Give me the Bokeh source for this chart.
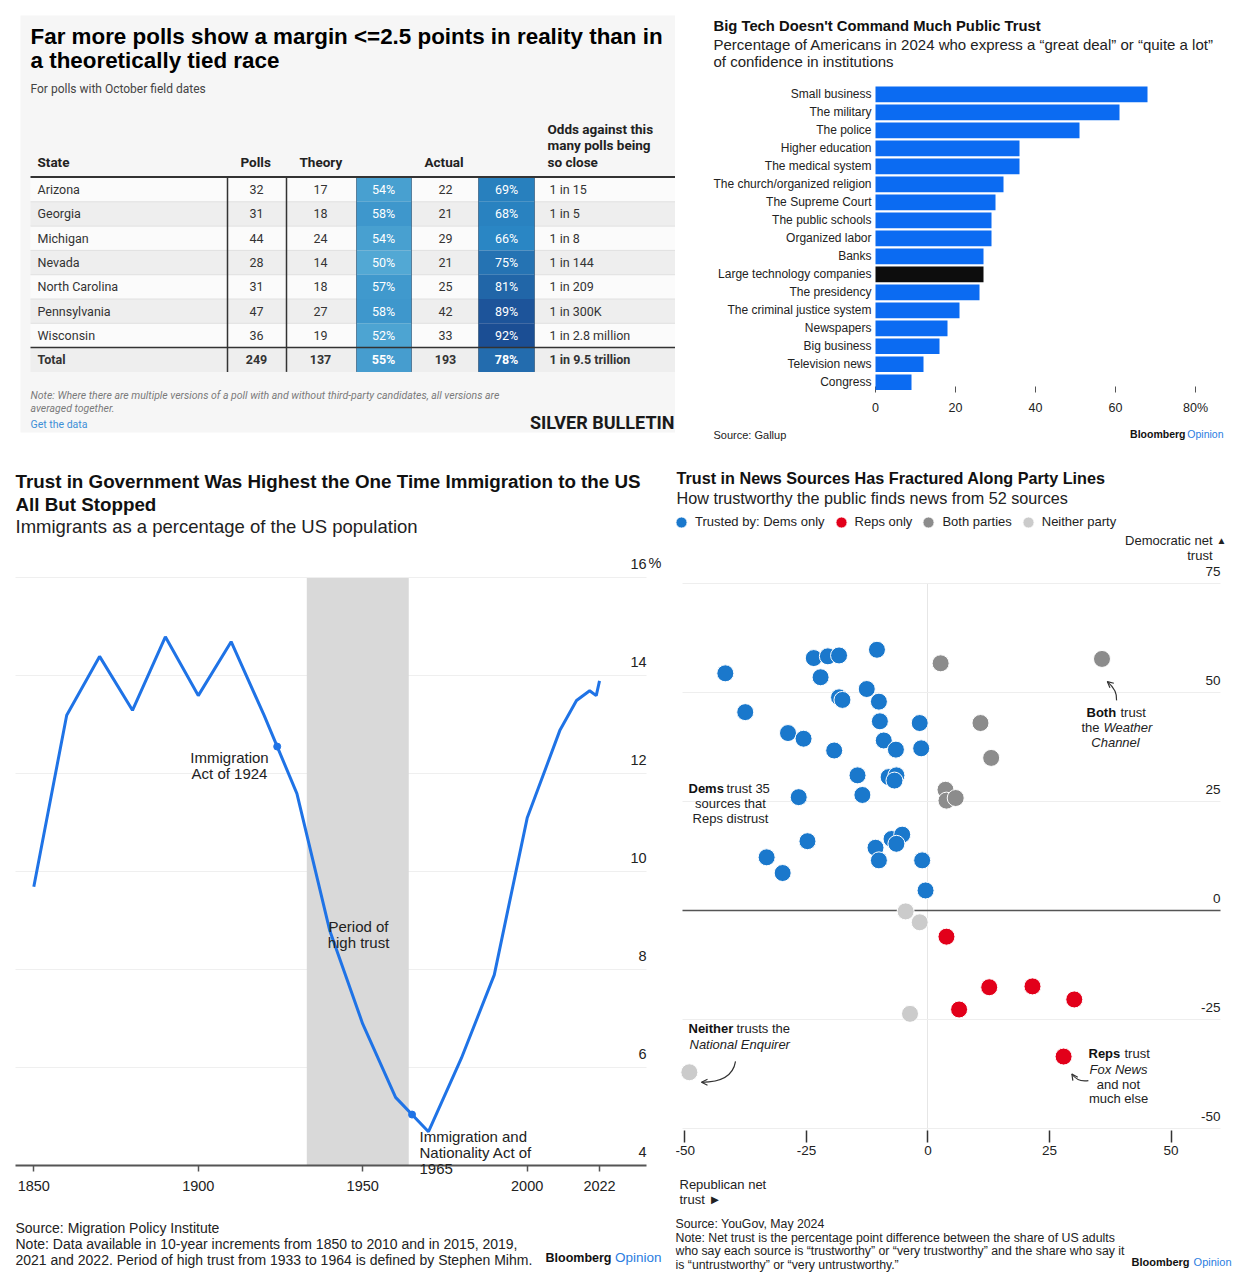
import numpy as np
from bokeh.plotting import figure
from bokeh.models import (Range1d, FixedTicker, Label, LabelSet, ColumnDataSource, Grid,
                          Legend, LegendItem, Arrow, OpenHead, BoxAnnotation)
from bokeh.layouts import row, column
from bokeh.embed import file_html
from bokeh.resources import INLINE
from bokeh.core.properties import value

# ---------------- data: polls table ----------------
states = ["Arizona", "Georgia", "Michigan", "Nevada", "North Carolina", "Pennsylvania", "Wisconsin", "Total"]
polls = [32, 31, 44, 28, 31, 47, 36, 249]
theory_n = [17, 18, 24, 14, 18, 27, 19, 137]
theory_pct = [54, 58, 54, 50, 57, 58, 52, 55]
actual_n = [22, 21, 29, 21, 25, 42, 33, 193]
actual_pct = [69, 68, 66, 75, 81, 89, 92, 78]
odds = ["1 in 15", "1 in 5", "1 in 8", "1 in 144", "1 in 209", "1 in 300K", "1 in 2.8 million", "1 in 9.5 trillion"]

# ---------------- data: confidence bars ----------------
institutions = ["Small business", "The military", "The police", "Higher education", "The medical system",
                "The church/organized religion", "The Supreme Court", "The public schools", "Organized labor",
                "Banks", "Large technology companies", "The presidency", "The criminal justice system",
                "Newspapers", "Big business", "Television news", "Congress"]
confidence = [68, 61, 51, 36, 36, 32, 30, 29, 29, 27, 27, 26, 21, 18, 16, 12, 9]
highlight = "Large technology companies"
bar_ticks = [0, 20, 40, 60, 80]

# ---------------- data: immigrants line ----------------
years = [1850, 1860, 1870, 1880, 1890, 1900, 1910, 1920, 1930, 1940, 1950, 1960, 1970, 1980, 1990,
         2000, 2010, 2015, 2019, 2021, 2022]
immig_pct = [9.7, 13.2, 14.4, 13.3, 14.8, 13.6, 14.7, 13.2, 11.6, 8.8, 6.9, 5.4, 4.7, 6.2, 7.9,
             11.1, 12.9, 13.5, 13.7, 13.6, 13.9]
high_trust = [1933, 1964]
act_years = [1924, 1965]
line_xticks = [1850, 1900, 1950, 2000, 2022]
line_yticks = [4, 6, 8, 10, 12, 14, 16]

# ---------------- data: news trust scatter ----------------
dems_x = [-41.7, -23.5, -20.6, -18.3, -10.5, -22.1, -12.6, -18.3, -17.6, -10.1, -37.6, -9.9, -1.7, -28.8,
          -25.6, -9.1, -6.6, -1.4, -19.3, -14.5, -8.1, -6.5, -6.9, -13.5, -26.6, -24.8, -10.8, -10.1,
          -7.5, -5.3, -6.5, -1.2, -33.2, -29.9, -0.5]
dems_y = [54.4, 57.9, 58.3, 58.5, 59.8, 53.5, 50.8, 48.9, 48.3, 47.9, 45.5, 43.4, 43.0, 40.7,
          39.4, 39.0, 36.9, 37.2, 36.7, 31.0, 30.6, 31.0, 29.8, 26.5, 26.0, 15.9, 14.4, 11.5,
          16.4, 17.4, 15.3, 11.5, 12.2, 8.6, 4.6]
reps_x = [3.8, 12.6, 21.5, 30.1, 6.4, 27.9]
reps_y = [-6.0, -17.6, -17.4, -20.4, -22.7, -33.5]
both_x = [2.6, 35.8, 10.8, 13.0, 3.6, 3.8, 5.7]
both_y = [56.7, 57.7, 43.0, 35.0, 27.7, 25.2, 25.8]
neither_x = [-4.6, -1.7, -3.7, -49.1]
neither_y = [-0.2, -2.7, -23.7, -37.1]
sc_xticks = [-50, -25, 0, 25, 50]
sc_yticks = [-50, -25, 0, 25, 50, 75]

SANS = "Liberation Sans"
ROB = "Roboto"
BLUE_OP = "#2a7de1"
HAS_CB = "cross_bounds" in Grid.properties()


def mkfig(w, h, xr, yr, **kw):
    p = figure(width=w, height=h, x_range=Range1d(*xr), y_range=Range1d(*yr), min_border=0,
               toolbar_location=None, output_backend="svg", outline_line_color=None,
               background_fill_color="white", border_fill_color="white", **kw)
    p.grid.visible = False
    return p


def lab(p, origin, X, Y, text, size=12, color="#222222", style="normal", align="left", font=SANS,
        baseline="middle"):
    fx0, fy0 = origin
    p.add_layout(Label(x=X - fx0, y=fy0 - Y, x_units="screen", y_units="screen", text=text,
                       text_font=font, text_font_size=f"{size}px", text_color=color,
                       text_font_style=style, text_align=align, text_baseline=baseline))


def hgrid(p, ticks, x0, x1, color, width=1.0):
    if HAS_CB:
        p.add_layout(Grid(dimension=1, ticker=FixedTicker(ticks=ticks), cross_bounds=(x0, x1),
                          grid_line_color=color, grid_line_width=width))
    else:
        p.segment(x0=x0, x1=x1, y0=ticks, y1=ticks, line_color=color, line_width=width, level="underlay")


def vgrid(p, ticks, y0, y1, color, width=1.0):
    if HAS_CB:
        p.add_layout(Grid(dimension=0, ticker=FixedTicker(ticks=ticks), cross_bounds=(y0, y1),
                          grid_line_color=color, grid_line_width=width))
    else:
        p.segment(x0=ticks, x1=ticks, y0=y0, y1=y1, line_color=color, line_width=width, level="underlay")


def style_axis(ax, size, tin, tout, standoff, tick_color, tick_w=1.0):
    ax.axis_line_color = None
    ax.major_tick_in = tin
    ax.major_tick_out = tout
    ax.minor_tick_line_color = None
    ax.major_tick_line_color = tick_color
    ax.major_tick_line_width = tick_w
    ax.major_label_standoff = standoff
    ax.major_label_text_font = SANS
    ax.major_label_text_font_size = f"{size}px"
    ax.major_label_text_color = "#222222"


def blend(v):
    xs = [50, 66, 92]
    cols = [(82, 168, 212), (42, 134, 196), (27, 78, 148)]
    rgb = [np.interp(v, xs, [c[k] for c in cols]) for k in range(3)]
    return "#%02x%02x%02x" % tuple(int(round(c)) for c in rgb)


# =============== 1. table (top left): canvas page x 0..675, y 0..450 ===============
TO = (0, 450)
t = mkfig(675, 450, (0, 675), (450, 0), x_axis_location=None, y_axis_location=None)
t.quad(left=20, right=675, top=15, bottom=432, fill_color="#f6f6f6", line_color=None)

n = len(states)
idx = np.arange(n)
row_h = 24.3
row_top = 177 + idx * row_h
row_mid = row_top + row_h / 2
row_fill = ["#fbfbfb" if i % 2 == 0 else "#eeeeee" for i in idx]
t.quad(left=30, right=675, top=row_top, bottom=row_top + row_h, fill_color=row_fill, line_color=None)
t.segment(x0=30, x1=675, y0=row_top[1:-1], y1=row_top[1:-1], line_color="#e0e0e0", line_width=1)
t.quad(left=356, right=411, top=row_top, bottom=row_top + row_h,
       fill_color=[blend(v) for v in theory_pct], line_color=None)
t.quad(left=478, right=534, top=row_top, bottom=row_top + row_h,
       fill_color=[blend(v) for v in actual_pct], line_color=None)
t_bottom = row_top[-1] + row_h
t.segment(x0=[356, 411, 478, 534], x1=[356, 411, 478, 534], y0=row_top[0], y1=t_bottom,
          line_color="#1d3f60", line_alpha=0.55, line_width=1)
t.segment(x0=[227, 286], x1=[227, 286], y0=row_top[0], y1=t_bottom, line_color="#333333", line_width=1.5)
t.segment(x0=30, x1=675, y0=176.5, y1=176.5, line_color="#333333", line_width=2)
t.segment(x0=30, x1=675, y0=row_top[-1], y1=row_top[-1], line_color="#333333", line_width=1.5)

for sl, style in ((slice(0, n - 1), "normal"), (slice(n - 1, n), "bold")):
    ym = list(row_mid[sl])
    cols = [
        (37, "left", states[sl], "#333333"),
        (256, "center", [str(v) for v in polls[sl]], "#333333"),
        (320, "center", [str(v) for v in theory_n[sl]], "#333333"),
        (383, "center", [f"{v}%" for v in theory_pct[sl]], "#ffffff"),
        (445, "center", [str(v) for v in actual_n[sl]], "#333333"),
        (506, "center", [f"{v}%" for v in actual_pct[sl]], "#ffffff"),
        (549, "left", odds[sl], "#333333"),
    ]
    for xpos, al, txt, colr in cols:
        t.text(x=[xpos] * len(ym), y=ym, text=list(txt), text_font=value(ROB), text_font_size="12.5px",
               text_font_style=style, text_align=al, text_baseline="middle", text_color=colr)

lab(t, TO, 30, 36, "Far more polls show a margin <=2.5 points in reality than in", 22.4, "#000000", "bold")
lab(t, TO, 30, 60, "a theoretically tied race", 22.4, "#000000", "bold")
lab(t, TO, 30, 88, "For polls with October field dates", 12, "#444444", font=ROB)
for X, txt in ((37, "State"), (240, "Polls"), (299, "Theory"), (424, "Actual")):
    lab(t, TO, X, 161, txt, 13.5, "#222222", "bold", font=ROB)
for Y, txt in ((128, "Odds against this"), (144, "many polls being"), (161, "so close")):
    lab(t, TO, 547, Y, txt, 13.5, "#222222", "bold", font=ROB)
lab(t, TO, 30, 395, "Note: Where there are multiple versions of a poll with and without third-party candidates, all versions are",
    10.5, "#7a7a7a", "italic", font=ROB)
lab(t, TO, 30, 408, "averaged together.", 10.5, "#7a7a7a", "italic", font=ROB)
lab(t, TO, 30, 424, "Get the data", 10.5, "#3d8fd6", font=ROB)
lab(t, TO, 674, 422, "SILVER BULLETIN", 18, "#1a1a1a", "bold", align="right", font=ROB)

# =============== 2. bars (top right): canvas page x 675..1235, y 0..455 ===============
BO = (675, 455)
nb = len(institutions)
bar_pos = np.arange(nb)[::-1]          # first institution on top
b = mkfig(560, 455, (-50, 90), (-4.067, 21.211), y_axis_location=None)
bar_colors = ["#0d0d0d" if nm == highlight else "#0b6bf2" for nm in institutions]
b.hbar(y=bar_pos, left=0, right=confidence, height=0.87, fill_color=bar_colors, line_color=None)
b.text(x=[0] * nb, y=bar_pos, text=institutions, x_offset=-4, text_align="right", text_baseline="middle",
       text_font=value(SANS), text_font_size="12px", text_color="#222222")
b.xaxis.fixed_location = -0.5
b.xaxis.ticker = FixedTicker(ticks=bar_ticks)
b.xaxis.major_label_overrides = {80: "80%"}
b.xaxis.level = "underlay"
style_axis(b.xaxis[0], 12.5, 5, 1, 9, "#555555")

lab(b, BO, 713, 25, "Big Tech Doesn't Command Much Public Trust", 14.8, "#111111", "bold")
lab(b, BO, 713, 43.5, "Percentage of Americans in 2024 who express a “great deal” or “quite a lot”", 15, "#222222")
lab(b, BO, 713, 61, "of confidence in institutions", 15, "#222222")
lab(b, BO, 713, 434.5, "Source: Gallup", 11, "#222222")
lab(b, BO, 1185, 433, "Bloomberg", 10.5, "#111111", "bold", align="right")
lab(b, BO, 1223, 433, "Opinion", 10.5, BLUE_OP, align="right")

# =============== 3. line (bottom left): canvas page x 0..675, y 450..1278 ===============
LO = (0, 1278)
LX_BOUNDS = (1844.44, 2036.3)
l = mkfig(675, 828, (1839.875, 2045.1), (1.704, 18.602), y_axis_location=None)
hgrid(l, line_yticks[1:], LX_BOUNDS[0], LX_BOUNDS[1], "#efefef")
l.add_layout(BoxAnnotation(left=high_trust[0], right=high_trust[1], bottom=line_yticks[0], top=line_yticks[-1],
                           fill_color="#d9d9d9", fill_alpha=1, line_color=None, level="underlay"))
LBLUE = "#1f73e6"
l.line(years, immig_pct, line_width=3, line_color=LBLUE)
l.scatter(act_years, np.interp(act_years, years, immig_pct), size=7, fill_color=LBLUE, line_color=LBLUE)
l.xaxis.fixed_location = line_yticks[0]
l.xaxis.bounds = LX_BOUNDS
l.xaxis.ticker = FixedTicker(ticks=line_xticks)
style_axis(l.xaxis[0], 14.5, 0, 6, 9, "#555555", 1.5)
l.xaxis.axis_line_color = "#555555"
l.xaxis.axis_line_width = 2
ysrc = ColumnDataSource(dict(x=[LX_BOUNDS[1]] * len(line_yticks), y=line_yticks,
                             text=[str(v) for v in line_yticks]))
l.add_layout(LabelSet(x="x", y="y", text="text", source=ysrc, x_offset=0, y_offset=14, text_align="right",
                      text_baseline="middle", text_font=value(SANS), text_font_size="14.5px",
                      text_color="#222222"))
lab(l, LO, 648, 562, "%", 14.5, "#222222")

lab(l, LO, 15, 481, "Trust in Government Was Highest the One Time Immigration to the US", 18.8, "#111111", "bold")
lab(l, LO, 15, 504, "All But Stopped", 18.8, "#111111", "bold")
lab(l, LO, 15, 526, "Immigrants as a percentage of the US population", 18.5, "#222222")
lab(l, LO, 229, 757, "Immigration", 15, "#222222", align="center")
lab(l, LO, 229, 773, "Act of 1924", 15, "#222222", align="center")
lab(l, LO, 358, 926, "Period of", 15, "#222222", align="center")
lab(l, LO, 358, 942, "high trust", 15, "#222222", align="center")
lab(l, LO, 419, 1136, "Immigration and", 15, "#222222")
lab(l, LO, 419, 1152, "Nationality Act of", 15, "#222222")
lab(l, LO, 419, 1168, "1965", 15, "#222222")
lab(l, LO, 15, 1227, "Source: Migration Policy Institute", 14, "#222222")
lab(l, LO, 15, 1243, "Note: Data available in 10-year increments from 1850 to 2010 and in 2015, 2019,", 14, "#222222")
lab(l, LO, 15, 1259, "2021 and 2022. Period of high trust from 1933 to 1964 is defined by Stephen Mihm.", 14, "#222222")
lab(l, LO, 611, 1257, "Bloomberg", 12.5, "#111111", "bold", align="right")
lab(l, LO, 661, 1257, "Opinion", 13.5, BLUE_OP, align="right")

# =============== 4. scatter (bottom right): canvas page x 675..1235, y 455..1278 ===============
SO = (675, 1278)
SX_BOUNDS = (-50.5, 60.2)
SY_AXIS = -50.46
s = mkfig(560, 823, (-51.95, 63.27), (-84.4, 104.36), y_axis_location=None)
vgrid(s, [0], SY_AXIS, sc_yticks[-1], "#e6e6e6")
hgrid(s, [v for v in sc_yticks if v != 0], SX_BOUNDS[0], SX_BOUNDS[1], "#eeeeee")
hgrid(s, [0], SX_BOUNDS[0], SX_BOUNDS[1], "#555555", 1.5)
r_d = s.scatter(dems_x, dems_y, size=17, fill_color="#1a78cc", line_color="white", line_width=1)
r_r = s.scatter(reps_x, reps_y, size=17, fill_color="#e2001a", line_color="white", line_width=1)
r_b = s.scatter(both_x, both_y, size=17, fill_color="#8c8c8c", line_color="white", line_width=1)
r_n = s.scatter(neither_x, neither_y, size=17, fill_color="#cbcbcb", line_color="white", line_width=1)
s.xaxis.fixed_location = SY_AXIS
s.xaxis.ticker = FixedTicker(ticks=sc_xticks)
s.xaxis.major_label_overrides = {v: str(v) for v in sc_xticks}
style_axis(s.xaxis[0], 13.5, 0, 12, 3, "#333333", 1.5)
sysrc = ColumnDataSource(dict(x=[SX_BOUNDS[1]] * len(sc_yticks), y=sc_yticks, text=[str(v) for v in sc_yticks]))
s.add_layout(LabelSet(x="x", y="y", text="text", source=sysrc, x_offset=0, y_offset=12, text_align="right",
                      text_baseline="middle", text_font=value(SANS), text_font_size="13.5px",
                      text_color="#222222"))

leg = Legend(items=[LegendItem(label="Trusted by: Dems only", renderers=[r_d]),
                    LegendItem(label="Reps only", renderers=[r_r]),
                    LegendItem(label="Both parties", renderers=[r_b]),
                    LegendItem(label="Neither party", renderers=[r_n])],
             orientation="horizontal", location=(-8, 1278 - 535.7), glyph_width=28, glyph_height=28,
             label_standoff=0, spacing=2, padding=0, margin=0, border_line_color=None,
             background_fill_alpha=0, label_text_font=SANS, label_text_font_size="13px",
             label_text_color="#222222")
s.add_layout(leg, "center")

# callout arrows
for (x0, y0, x1, y1, cx, cy) in ((38.8, 48.2, 36.9, 52.5, 39.0, 50.5),
                                 (-39.6, -34.6, -46.6, -39.4, -40.3, -39.4),
                                 (33.0, -39.0, 29.6, -37.5, 30.8, -39.4)):
    s.quadratic(x0=x0, y0=y0, x1=x1, y1=y1, cx=cx, cy=cy, line_color="#333333", line_width=1.2)
    s.add_layout(Arrow(end=OpenHead(size=6, line_color="#333333", line_width=1.2),
                       x_start=x1 - 0.05 * (x1 - cx), y_start=y1 - 0.05 * (y1 - cy), x_end=x1, y_end=y1,
                       line_color="#333333", line_width=1.2))

lab(s, SO, 676, 477, "Trust in News Sources Has Fractured Along Party Lines", 16.2, "#111111", "bold")
lab(s, SO, 676, 497, "How trustworthy the public finds news from 52 sources", 16.2, "#222222")
lab(s, SO, 1212, 540, "Democratic net", 13, "#222222", align="right")
lab(s, SO, 1216, 540, "▲", 10, "#222222")
lab(s, SO, 1212, 555, "trust", 13, "#222222", align="right")
# Dems callout
lab(s, SO, 688, 788, "Dems", 13, "#111111", "bold")
lab(s, SO, 726, 788, "trust 35", 13, "#222222")
lab(s, SO, 730, 803, "sources that", 13, "#222222", align="center")
lab(s, SO, 730, 818, "Reps distrust", 13, "#222222", align="center")
# Both callout
lab(s, SO, 1086, 712, "Both", 13, "#111111", "bold")
lab(s, SO, 1120, 712, "trust", 13, "#222222")
lab(s, SO, 1081, 727, "the", 13, "#222222")
lab(s, SO, 1103, 727, "Weather", 13, "#222222", "italic")
lab(s, SO, 1115, 742, "Channel", 13, "#222222", "italic", align="center")
# Neither callout
lab(s, SO, 688, 1028, "Neither", 13, "#111111", "bold")
lab(s, SO, 736, 1028, "trusts the", 13, "#222222")
lab(s, SO, 689, 1044, "National Enquirer", 13, "#222222", "italic")
# Reps callout
lab(s, SO, 1088, 1053, "Reps", 13, "#111111", "bold")
lab(s, SO, 1124, 1053, "trust", 13, "#222222")
lab(s, SO, 1118, 1069, "Fox News", 13, "#222222", "italic", align="center")
lab(s, SO, 1118, 1084, "and not", 13, "#222222", align="center")
lab(s, SO, 1118, 1098, "much else", 13, "#222222", align="center")
# axis title + notes
lab(s, SO, 679, 1184, "Republican net", 13, "#222222")
lab(s, SO, 679, 1199, "trust ►", 13, "#222222")
lab(s, SO, 675, 1223, "Source: YouGov, May 2024", 12.3, "#222222")
lab(s, SO, 675, 1237, "Note: Net trust is the percentage point difference between the share of US adults", 12.3, "#222222")
lab(s, SO, 675, 1250.5, "who say each source is “trustworthy” or “very trustworthy” and the share who say it", 12.3, "#222222")
lab(s, SO, 675, 1264, "is “untrustworthy” or “very untrustworthy.”", 12.3, "#222222")
lab(s, SO, 1189, 1261, "Bloomberg", 11, "#111111", "bold", align="right")
lab(s, SO, 1231, 1261, "Opinion", 11, BLUE_OP, align="right")

page = row(column(t, l), column(b, s))
open("out.html", "w").write(file_html(page, INLINE))
